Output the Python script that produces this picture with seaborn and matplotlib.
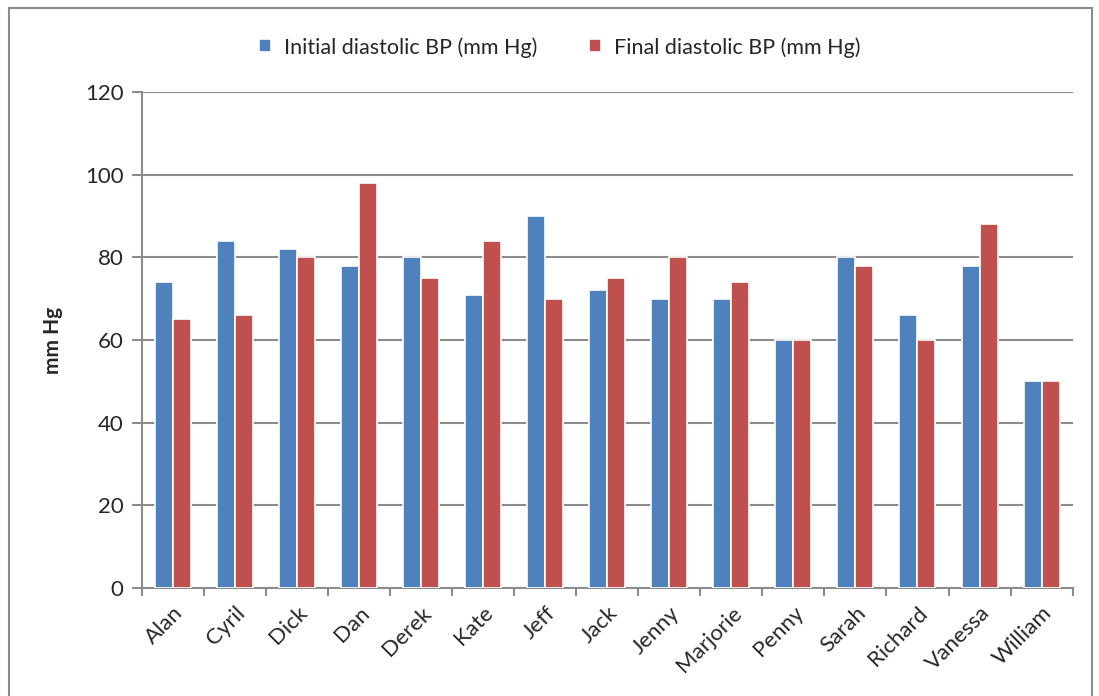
import numpy as np
import pandas as pd
import seaborn as sns
from matplotlib import pyplot as plt
from matplotlib.patches import Rectangle

# Chart values
names = ['Alan', 'Cyril', 'Dick', 'Dan', 'Derek', 'Kate', 'Jeff', 'Jack',
         'Jenny', 'Marjorie', 'Penny', 'Sarah', 'Richard', 'Vanessa', 'William']
initial_bp = [74, 84, 82, 78, 80, 71, 90, 72, 70, 70, 60, 80, 66, 78, 50]
final_bp = [65, 66, 80, 98, 75, 84, 70, 75, 80, 74, 60, 78, 60, 88, 50]
series_names = ['Initial diastolic BP (mm Hg)', 'Final diastolic BP (mm Hg)']
y_ticks = [0, 20, 40, 60, 80, 100, 120]

df = pd.DataFrame({
    'name': names * 2,
    'bp': initial_bp + final_bp,
    'series': [series_names[0]] * len(names) + [series_names[1]] * len(names),
})

sns.set_style('white')
plt.rcParams['font.family'] = ['Lato', 'DejaVu Sans']

fig = plt.figure(figsize=(10.99, 6.96), dpi=100)
ax = fig.add_axes([0.129, 0.155, 0.847, 0.713])

palette = {series_names[0]: '#4F81BD', series_names[1]: '#C0504D'}
sns.barplot(data=df, x='name', y='bp', hue='series', palette=palette,
            width=0.58, edgecolor='white', linewidth=1.2, saturation=1,
            ax=ax, zorder=3)

ax.set_ylim(0, 120)
ax.set_xlim(-0.5, len(names) - 0.5)
ax.set_yticks(y_ticks)
ax.yaxis.grid(True, color='#8c8c8c', linewidth=1.5, zorder=0)
ax.set_axisbelow(True)

for side in ['top', 'right']:
    ax.spines[side].set_visible(False)
for side in ['left', 'bottom']:
    ax.spines[side].set_color('#8c8c8c')
    ax.spines[side].set_linewidth(1.5)

ax.tick_params(axis='y', which='major', left=True, length=7, width=1.5,
               color='#8c8c8c', labelsize=16, pad=6)
ax.set_xticks(np.arange(-0.5, len(names)), minor=True)
ax.tick_params(axis='x', which='minor', bottom=True, length=6, width=1.5, color='#8c8c8c')
ax.tick_params(axis='x', which='major', bottom=False, labelsize=16, pad=7)
plt.setp(ax.get_xticklabels(), rotation=45, ha='right', rotation_mode='anchor')

ax.set_xlabel('')
ax.set_ylabel('mm Hg', fontsize=15, fontweight='bold', labelpad=16)

leg = ax.legend(loc='center', bbox_to_anchor=(0.449, 1.09), ncol=2, frameon=False,
                fontsize=15.5, handlelength=0.55, handleheight=0.55, columnspacing=2.4,
                handletextpad=0.6)

# outer chart frame
fig.patches.append(Rectangle((0.008, -0.02), 0.986, 1.008, transform=fig.transFigure,
                             fill=False, edgecolor='#8c8c8c', linewidth=1.5))

fig.savefig('out.png', dpi=100)
